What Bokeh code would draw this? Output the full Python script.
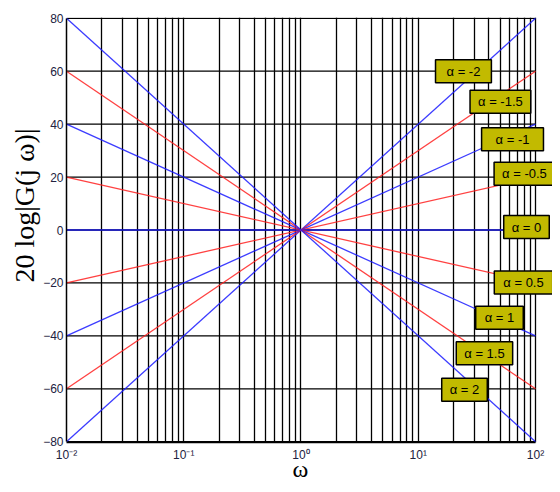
from bokeh.plotting import figure
from bokeh.models import Range1d, FixedTicker, Label, Title
from bokeh.embed import file_html
from bokeh.resources import INLINE

# ---- data ----
alphas = [-2, -1.5, -1, -0.5, 0, 0.5, 1, 1.5, 2]
w_ends = [0.01, 100]
mag_left = [-80, -60, -40, -20, 0, 20, 40, 60, 80]     # dB at w = 1e-2
mag_right = [80, 60, 40, 20, 0, -20, -40, -60, -80]    # dB at w = 1e2
label_texts = ["α = -2", "α = -1.5", "α = -1", "α = -0.5", "α = 0",
               "α = 0.5", "α = 1", "α = 1.5", "α = 2"]
x_major = [0.01, 0.1, 1, 10, 100]
x_major_labels = ["10⁻²", "10⁻¹", "10⁰", "10¹", "10²"]
y_major = [-80, -60, -40, -20, 0, 20, 40, 60, 80]

# ---- layout (positions of the boxed labels, in data coords) ----
lab_x = [24.3, 50.2, 63.7, 80.5, 83.8, 79.0, 49.3, 36.7, 24.8]
lab_y = [60.0, 48.5, 34.3, 21.3, 1.1, -19.8, -33.2, -46.6, -60.4]
lab_pad = [11, 8, 14, 8, 8, 9, 9, 8, 8]

W, H = 552, 484
p = figure(width=W, height=H, x_axis_type="log",
           x_range=Range1d(0.01, 10 ** 2.145), y_range=Range1d(-80.3, 80.3),
           output_backend="svg", toolbar_location=None,
           min_border_left=66, min_border_right=0,
           min_border_top=17, min_border_bottom=38)
p.background_fill_color = "white"
p.border_fill_color = "white"
p.outline_line_color = None

minor = [k * 10 ** e for e in range(-2, 2) for k in range(2, 10)]
p.xaxis.ticker = FixedTicker(ticks=x_major, minor_ticks=minor)
p.yaxis.ticker = FixedTicker(ticks=y_major)
p.xaxis.major_label_overrides = {t: l for t, l in zip(x_major, x_major_labels)}
p.xaxis.bounds = (x_major[0], x_major[-1])
p.yaxis.bounds = (y_major[0], y_major[-1])

for ax in (p.xaxis, p.yaxis):
    ax.axis_line_color = "black"
    ax.axis_line_width = 1.5
    ax.major_tick_line_color = None
    ax.minor_tick_line_color = None
    ax.major_tick_out = 0
    ax.major_tick_in = 0
    ax.minor_tick_out = 0
    ax.minor_tick_in = 0
    ax.major_label_text_font = "Liberation Sans"
    ax.major_label_text_font_size = "12px"
    ax.major_label_text_color = "#222240"
p.yaxis.major_label_standoff = 3
p.xaxis.major_label_standoff = 5

# trailing no-break spaces shift the centred glyph to sit under 10^0
p.xaxis.axis_label = "ω\u00a0\u00a0\u00a0"
p.xaxis.axis_label_standoff = -9
p.xaxis.axis_label_text_font = "Liberation Serif"
p.xaxis.axis_label_text_font_size = "24px"
p.xaxis.axis_label_text_font_style = "normal"
p.xaxis.axis_label_text_color = "black"

p.xgrid.grid_line_color = "black"
p.xgrid.grid_line_width = 1.3
p.xgrid.minor_grid_line_color = "black"
p.xgrid.minor_grid_line_width = 1.3
p.ygrid.grid_line_color = None

# horizontal grid lines, limited to the plotted decade span
p.segment(x0=[w_ends[0]] * len(y_major), x1=[w_ends[1]] * len(y_major),
          y0=y_major, y1=y_major, line_color="black", line_width=1.3)

for a, y0, y1 in zip(alphas, mag_left, mag_right):
    col = "#1a1aff" if float(a).is_integer() else "#ff2020"
    p.line(w_ends, [y0, y1], line_color=col, line_width=1.3, line_alpha=0.85)

for t, x, y, pad in zip(label_texts, lab_x, lab_y, lab_pad):
    p.add_layout(Label(x=x, y=y, text=t, text_align="center", text_baseline="middle",
                       text_font="Liberation Sans", text_font_size="13px",
                       text_color="black",
                       background_fill_color="#c2ba00",
                       border_line_color="black", border_line_width=1.5,
                       padding=(pad, 4)))

# y axis title
p.add_layout(Title(text="20 log|G(j ω)|", align="right", offset=111,
                   vertical_align="middle", standoff=0, text_line_height=1.0,
                   text_font="Liberation Serif", text_font_size="28px",
                   text_font_style="normal", text_color="black"), "left")

open("out.html", "w").write(file_html(p, INLINE))
